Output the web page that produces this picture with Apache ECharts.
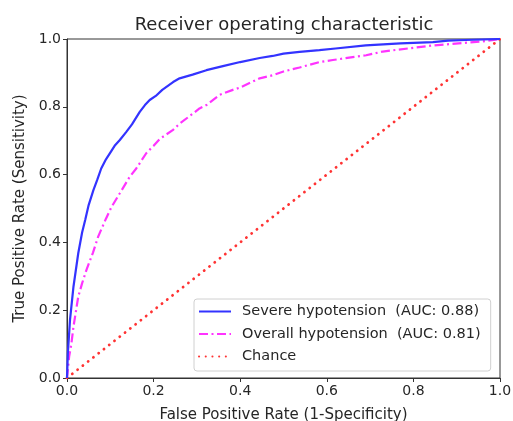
<!DOCTYPE html>
<html>
<head>
<meta charset="utf-8">
<script src="https://cdn.jsdelivr.net/npm/echarts@6/dist/echarts.min.js"></script>
<style>
  html, body { margin: 0; padding: 0; background: #fff; }
  #chart { width: 513px; height: 421px; }
</style>
</head>
<body>
<div id="chart"></div>
<script>
// ROC points
const severeFpr = [0, 0.002, 0.007, 0.015, 0.026, 0.035, 0.042, 0.05, 0.061, 0.07, 0.079, 0.09, 0.1, 0.11, 0.122, 0.137, 0.15, 0.168, 0.18, 0.191, 0.205, 0.22, 0.245, 0.26, 0.29, 0.322, 0.36, 0.4, 0.445, 0.475, 0.5, 0.537, 0.583, 0.62, 0.69, 0.77, 0.845, 0.88, 0.92, 1];
const severeTpr = [0, 0.074, 0.172, 0.27, 0.368, 0.43, 0.466, 0.51, 0.554, 0.585, 0.618, 0.645, 0.665, 0.685, 0.702, 0.726, 0.748, 0.785, 0.805, 0.82, 0.832, 0.85, 0.873, 0.884, 0.895, 0.908, 0.92, 0.932, 0.944, 0.95, 0.957, 0.962, 0.967, 0.972, 0.981, 0.987, 0.991, 0.995, 0.997, 1];

const overallFpr = [0, 0.005, 0.01, 0.015, 0.026, 0.035, 0.045, 0.06, 0.072, 0.09, 0.103, 0.122, 0.145, 0.16, 0.183, 0.2, 0.214, 0.245, 0.26, 0.306, 0.322, 0.352, 0.383, 0.4, 0.445, 0.475, 0.5, 0.537, 0.583, 0.614, 0.691, 0.729, 0.845, 0.96, 1];
const overallTpr = [0, 0.064, 0.1, 0.152, 0.24, 0.28, 0.319, 0.37, 0.417, 0.47, 0.505, 0.545, 0.594, 0.618, 0.663, 0.685, 0.705, 0.732, 0.75, 0.795, 0.805, 0.835, 0.85, 0.857, 0.884, 0.893, 0.904, 0.916, 0.932, 0.938, 0.952, 0.963, 0.981, 0.993, 1];

const chanceFpr = [0, 1];
const chanceTpr = [0, 1];

const seriesNames = ['Severe hypotension  (AUC: 0.88)', 'Overall hypotension  (AUC: 0.81)', 'Chance'];
const axisTicks = [0, 0.2, 0.4, 0.6, 0.8, 1.0];

const pairs = (xs, ys) => xs.map((x, i) => [x, ys[i]]);

const FONT = 'DejaVu Sans';
const axisCommon = {
  type: 'value',
  min: axisTicks[0],
  max: axisTicks[axisTicks.length - 1],
  interval: axisTicks[1] - axisTicks[0],
  axisLine: { show: true, onZero: false, lineStyle: { color: '#333', width: 1 } },
  axisTick: { show: true, inside: false, length: 4, lineStyle: { color: '#333' } },
  axisLabel: { color: '#262626', fontFamily: FONT, fontSize: 14, margin: 6, formatter: v => v.toFixed(1) },
  splitLine: { show: false },
  nameLocation: 'middle',
  nameTextStyle: { color: '#262626', fontFamily: FONT, fontSize: 15 },
};

const chart = echarts.init(document.getElementById('chart'));
chart.setOption({
  animation: false,
  backgroundColor: '#fff',
  title: {
    text: 'Receiver operating characteristic',
    left: 279, top: 11, textAlign: 'center',
    textStyle: { color: '#262626', fontFamily: FONT, fontSize: 18, fontWeight: 'normal' },
  },
  grid: {
    left: 67, right: 13, top: 39, bottom: 43,
    outerBoundsMode: 'none', containLabel: false,
    show: true, borderColor: '#333', borderWidth: 1, backgroundColor: 'transparent',
  },
  xAxis: { ...axisCommon, name: 'False Positive Rate (1-Specificity)', nameGap: 30 },
  yAxis: { ...axisCommon, name: 'True Positive Rate (Sensitivity)', nameGap: 39 },
  legend: {
    orient: 'vertical',
    left: 194, top: 299,
    padding: [5, 10, 7, 4],
    itemWidth: 32, itemHeight: 10, itemGap: 7.5,
    itemStyle: { opacity: 0 },
    backgroundColor: '#fff',
    borderColor: '#d0d0d0', borderWidth: 1, borderRadius: 3,
    textStyle: { color: '#262626', fontFamily: FONT, fontSize: 14.5, padding: [0, 0, 0, 6] },
    data: seriesNames,
  },
  series: [
    {
      name: seriesNames[0], type: 'line', symbol: 'none', smooth: false,
      lineStyle: { color: '#3333ff', width: 2.2 }, itemStyle: { color: '#3333ff' },
      data: pairs(severeFpr, severeTpr), z: 3,
    },
    {
      name: seriesNames[1], type: 'line', symbol: 'none', smooth: false,
      lineStyle: { color: '#ff33ff', width: 2.2, type: [9, 3.5, 2, 3.5] }, itemStyle: { color: '#ff33ff' },
      data: pairs(overallFpr, overallTpr), z: 2,
    },
    {
      name: seriesNames[2], type: 'line', symbol: 'none', smooth: false,
      lineStyle: { color: '#ff3333', width: 2.8, type: [0.1, 6.6], cap: 'round' }, itemStyle: { color: '#ff3333' },
      data: pairs(chanceFpr, chanceTpr), z: 1,
    },
  ],
});
</script>
</body>
</html>
